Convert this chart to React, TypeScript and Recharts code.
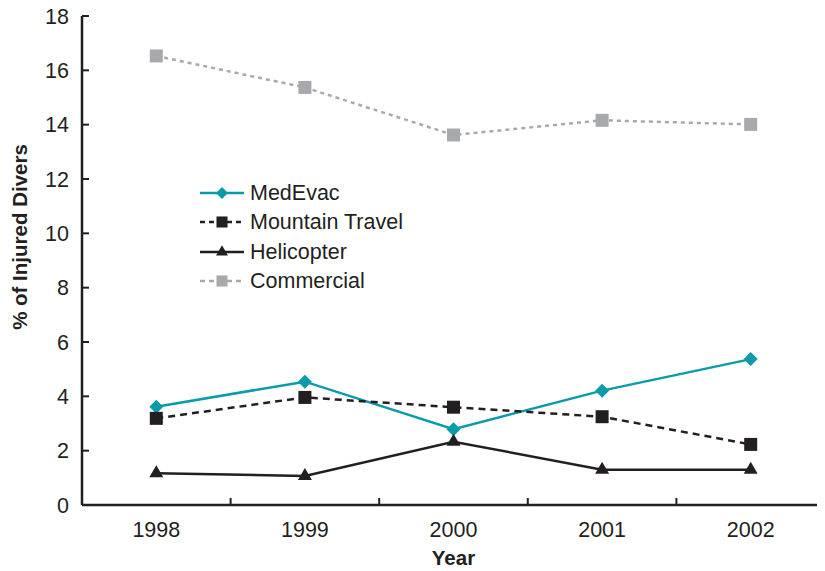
import React from "react";
import { LineChart, Line, XAxis, YAxis, Legend } from "recharts";

const years = ["1998", "1999", "2000", "2001", "2002"];
const medEvac = [3.62, 4.54, 2.79, 4.21, 5.37];
const mountainTravel = [3.19, 3.96, 3.6, 3.25, 2.23];
const helicopter = [1.17, 1.07, 2.33, 1.3, 1.3];
const commercial = [16.53, 15.37, 13.62, 14.16, 14.01];
const yTicks = [0, 2, 4, 6, 8, 10, 12, 14, 16, 18];

const INK = "#231f20";
const TEAL = "#0a9bab";
const GREY = "#a7a9ac";
const FONT = '"Liberation Sans", Arial, sans-serif';

const rows = years.map((year, i) => ({
  idx: i,
  year,
  medEvac: medEvac[i],
  mountainTravel: mountainTravel[i],
  helicopter: helicopter[i],
  commercial: commercial[i],
}));

// ticks at category centres (labels) and in between (tick marks)
const xTicks = years.flatMap((_, i) => [i - 0.5, i]).concat(years.length - 0.5);

type Shape = "diamond" | "square" | "triangle";

function Marker({ cx, cy, shape, color, s = 1 }: { cx: number; cy: number; shape: Shape; color: string; s?: number }) {
  if (cx == null || cy == null) return null;
  if (shape === "diamond") {
    const r = 7 * s;
    return <polygon points={`${cx},${cy - r} ${cx + r},${cy} ${cx},${cy + r} ${cx - r},${cy}`} fill={color} />;
  }
  if (shape === "square") {
    const h = 6.5 * s;
    return <rect x={cx - h} y={cy - h} width={h * 2} height={h * 2} fill={color} />;
  }
  return <polygon points={`${cx},${cy - 8 * s} ${cx + 7 * s},${cy + 4 * s} ${cx - 7 * s},${cy + 4 * s}`} fill={color} />;
}

const series = [
  { key: "medEvac", name: "MedEvac", color: TEAL, dash: undefined, shape: "diamond" as Shape },
  { key: "mountainTravel", name: "Mountain Travel", color: INK, dash: "7 5", shape: "square" as Shape },
  { key: "helicopter", name: "Helicopter", color: INK, dash: undefined, shape: "triangle" as Shape },
  { key: "commercial", name: "Commercial", color: GREY, dash: "4 4", shape: "square" as Shape },
];

function XTick(props: any) {
  const { x, y, payload } = props;
  const v = payload.value;
  if (Number.isInteger(v)) {
    return (
      <text x={x} y={y + 32} textAnchor="middle" fill={INK} fontSize={21.5} fontFamily={FONT}>
        {years[v]}
      </text>
    );
  }
  return <line x1={x} x2={x} y1={y} y2={y - 7} stroke={INK} strokeWidth={2} />;
}

function YTick(props: any) {
  const { x, y, payload } = props;
  return (
    <g>
      <line x1={x} x2={x + 7} y1={y} y2={y} stroke={INK} strokeWidth={2} />
      <text x={x - 13} y={y} dy="0.36em" textAnchor="end" fill={INK} fontSize={21.5} fontFamily={FONT}>
        {payload.value}
      </text>
    </g>
  );
}

function LegendBox() {
  return (
    <div style={{ fontFamily: FONT, fontSize: 21.5, color: INK }}>
      {series.map((s) => (
        <div key={s.key} style={{ display: "flex", alignItems: "center", height: 29.5 }}>
          <svg width={44} height={20} style={{ display: "block" }}>
            <line x1={0} x2={44} y1={10} y2={10} stroke={s.color} strokeWidth={2.5} strokeDasharray={s.dash ? "5 4" : undefined} />
            <Marker cx={22} cy={10} shape={s.shape} color={s.color} s={0.85} />
          </svg>
          <span style={{ marginLeft: 6, lineHeight: "20px" }}>{s.name}</span>
        </div>
      ))}
    </div>
  );
}

export default function App() {
  return (
    <LineChart
      width={817}
      height={563}
      data={rows}
      margin={{ top: 8, right: 0, bottom: 0, left: 0 }}
      style={{ overflow: "visible" }}
    >
      <XAxis
        type="number"
        dataKey="idx"
        domain={[-0.5, 4.5]}
        ticks={xTicks}
        interval={0}
        tickLine={false}
        tickSize={0}
        tickMargin={0}
        tick={(p: any) => <XTick {...p} />}
        axisLine={{ stroke: INK, strokeWidth: 2.5 }}
        height={66}
        label={{
          content: (p: any) => {
            const vb = p.viewBox;
            return (
              <text x={vb.x + vb.width / 2} y={vb.y + 60} textAnchor="middle" fill={INK} fontSize={20.5} fontWeight="bold" fontFamily={FONT}>
                Year
              </text>
            );
          },
        }}
      />
      <YAxis
        type="number"
        domain={[0, 18]}
        ticks={yTicks}
        interval={0}
        tickLine={false}
        tickSize={0}
        tickMargin={0}
        tick={(p: any) => <YTick {...p} />}
        axisLine={{ stroke: INK, strokeWidth: 2.5 }}
        width={74}
        label={{
          content: () => (
            <text
              x={11.5}
              y={229}
              transform="rotate(-90 11.5 229)"
              textAnchor="middle"
              dominantBaseline="central"
              fill={INK}
              fontSize={20.5}
              fontWeight="bold"
              fontFamily={FONT}
            >
              % of Injured Divers
            </text>
          ),
        }}
      />
      <Legend
        layout="vertical"
        align="center"
        verticalAlign="middle"
        content={() => <LegendBox />}
        wrapperStyle={{ left: 192, top: 170, width: "auto" }}
      />
      {series.map((s) => (
        <Line
          key={s.key}
          type="linear"
          dataKey={s.key}
          name={s.name}
          stroke={s.color}
          strokeWidth={2.5}
          strokeDasharray={s.dash}
          isAnimationActive={false}
          activeDot={false}
          dot={(p: any) => <Marker key={`${s.key}-${p.index}`} cx={p.cx} cy={p.cy} shape={s.shape} color={s.color} />}
        />
      ))}
    </LineChart>
  );
}
